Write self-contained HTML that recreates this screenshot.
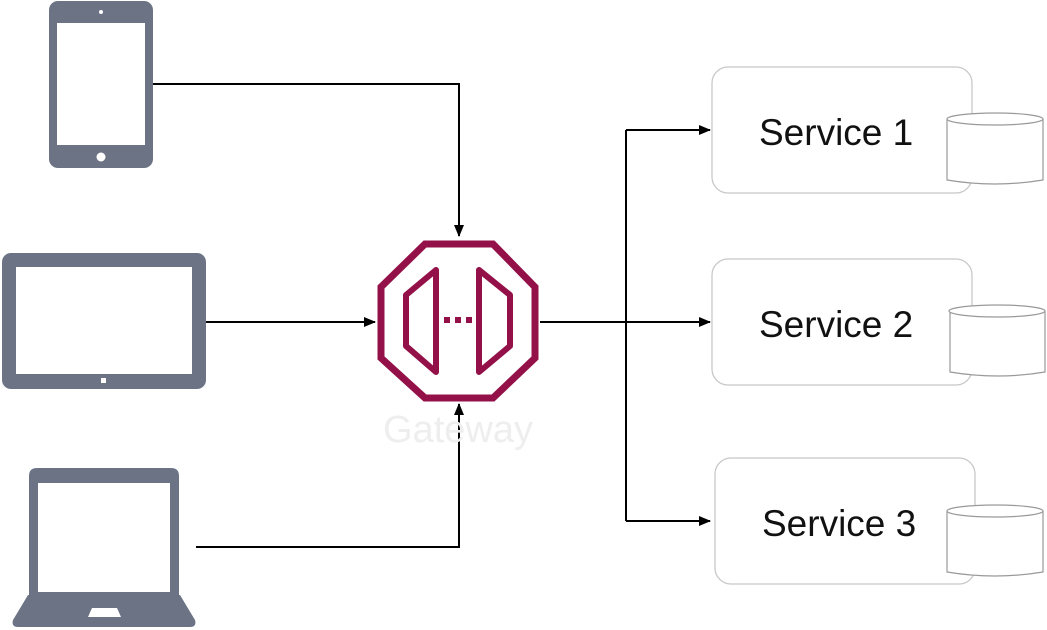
<!DOCTYPE html>
<html><head><style>
html,body{margin:0;padding:0;background:#fff;width:1047px;height:630px;overflow:hidden}
svg{display:block}
</style></head><body>
<svg width="1047" height="630" xmlns="http://www.w3.org/2000/svg">
<defs>
<marker id="a" markerWidth="12" markerHeight="10" refX="11" refY="5" orient="auto" markerUnits="userSpaceOnUse">
<path d="M0,0 L12,5 L0,10 Z" fill="#000"/></marker>
</defs>
<g fill="#6b7385">
<rect x="49" y="1" width="104" height="167" rx="9"/>
<rect x="2" y="253" width="204" height="136" rx="9"/>
<path d="M37,468 H171 Q179,468 179,476 V597 H29 V476 Q29,468 37,468 Z"/>
<path d="M28,595 H180 L195,620 Q197,627 190,627 H18 Q11,627 13,620 Z"/>
</g>
<g fill="#fff">
<rect x="57" y="23" width="88" height="122"/>
<circle cx="101" cy="12" r="2"/>
<circle cx="101" cy="157" r="4.5"/>
<rect x="16" y="267" width="176" height="107"/>
<rect x="101" y="378" width="5" height="5"/>
<rect x="38" y="483" width="132" height="109"/>
<path d="M92,608 H117 L121,617 H88 Z"/>
</g>
<g stroke="#000" stroke-width="2" fill="none">
<path d="M153,84 H459 V236" marker-end="url(#a)"/>
<path d="M206,322 H375" marker-end="url(#a)"/>
<path d="M196,547 H459 V404" marker-end="url(#a)"/>
<path d="M540,322 H626"/>
<path d="M626,130 V521"/>
<path d="M626,130 H710" marker-end="url(#a)"/>
<path d="M626,322 H710" marker-end="url(#a)"/>
<path d="M626,521 H710" marker-end="url(#a)"/>
</g>
<g stroke="#931048" fill="none" stroke-linejoin="miter">
<polygon points="425,244 493,244 535,287 535,358 493,398 425,398 381,358 381,287" stroke-width="7"/>
<polygon points="436,270 436,372 406,346 406,295" stroke-width="6" stroke-linejoin="round"/>
<polygon points="479,270 479,372 510,346 510,295" stroke-width="6" stroke-linejoin="round"/>
</g>
<g fill="#931048">
<rect x="444" y="317" width="6" height="6"/>
<rect x="455" y="317" width="6" height="6"/>
<rect x="466" y="317" width="6" height="6"/>
</g>
<text x="458" y="442" font-family="Liberation Sans, sans-serif" font-size="38" fill="#eeeeee" text-anchor="middle">Gateway</text>
<g stroke="#c8c8c8" stroke-width="1.3" fill="#fff">
<rect x="712" y="67" width="260" height="126" rx="16"/>
<rect x="712" y="259" width="260" height="126" rx="16"/>
<rect x="715" y="458" width="260" height="126" rx="16"/>
</g>
<g font-family="Liberation Sans, sans-serif" font-size="37" fill="#111">
<text x="759" y="145">Service 1</text>
<text x="759" y="337">Service 2</text>
<text x="762" y="536">Service 3</text>
</g>
<g stroke="#999" stroke-width="1.2" fill="#fff">
<path d="M947,119 V180 Q995,188 1043,180 V119"/>
<ellipse cx="995" cy="119" rx="48" ry="6"/>
<path d="M950,311 V372 Q998,380 1045,372 V311"/>
<ellipse cx="997" cy="311" rx="48" ry="6"/>
<path d="M947,511 V572 Q995,580 1043,572 V511"/>
<ellipse cx="995" cy="511" rx="48" ry="6"/>
</g>
</svg>
</body></html>
